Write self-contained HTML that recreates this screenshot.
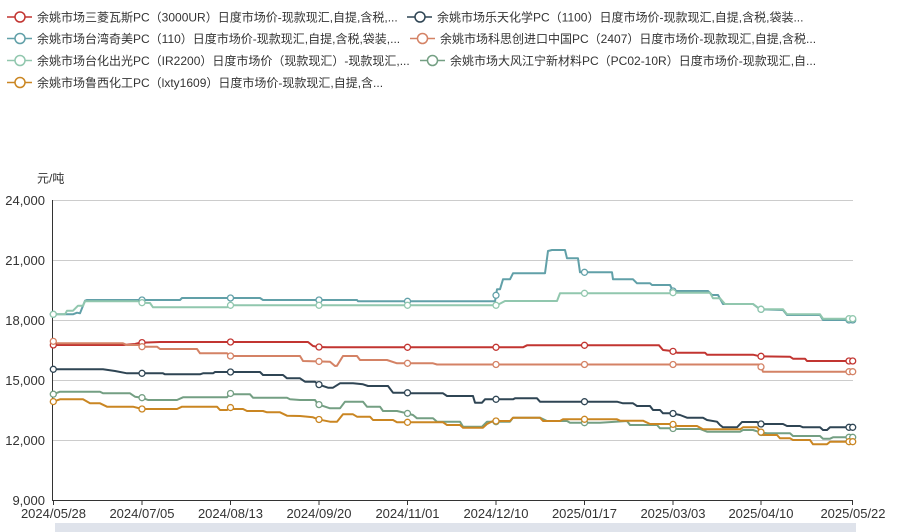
<!DOCTYPE html>
<html><head><meta charset="utf-8"><style>
html,body{margin:0;padding:0;background:#fff;}
svg{display:block;}
text{font-family:"Liberation Sans","Noto Sans CJK SC",sans-serif;}
</style></head><body>
<svg id="s" width="901" height="532" viewBox="0 0 901 532" xmlns="http://www.w3.org/2000/svg">
<rect width="901" height="532" fill="#fff"/>
<!-- legend -->
<g font-size="12" fill="#333">
 <g stroke-width="1.5" fill="#fff">
  <line x1="7" y1="17" x2="32" y2="17" stroke="#c23531"/><circle cx="20" cy="17" r="5" stroke="#c23531"/>
  <line x1="407" y1="17" x2="432" y2="17" stroke="#2f4554"/><circle cx="420" cy="17" r="5" stroke="#2f4554"/>
  <line x1="7" y1="38.5" x2="32" y2="38.5" stroke="#61a0a8"/><circle cx="20" cy="38.5" r="5" stroke="#61a0a8"/>
  <line x1="410" y1="38.5" x2="435" y2="38.5" stroke="#d48265"/><circle cx="422.5" cy="38.5" r="5" stroke="#d48265"/>
  <line x1="7" y1="60.5" x2="32" y2="60.5" stroke="#91c7ae"/><circle cx="20" cy="60.5" r="5" stroke="#91c7ae"/>
  <line x1="420" y1="60.5" x2="445" y2="60.5" stroke="#749f83"/><circle cx="432.5" cy="60.5" r="5" stroke="#749f83"/>
  <line x1="7" y1="82.5" x2="32" y2="82.5" stroke="#ca8622"/><circle cx="20" cy="82.5" r="5" stroke="#ca8622"/>
 </g>
 <text x="37" y="21.5">余姚市场三菱瓦斯PC（3000UR）日度市场价-现款现汇,自提,含税,...</text>
 <text x="437" y="21.5">余姚市场乐天化学PC（1100）日度市场价-现款现汇,自提,含税,袋装...</text>
 <text x="37" y="43">余姚市场台湾奇美PC（110）日度市场价-现款现汇,自提,含税,袋装,...</text>
 <text x="440" y="43">余姚市场科思创进口中国PC（2407）日度市场价-现款现汇,自提,含税...</text>
 <text x="37" y="65">余姚市场台化出光PC（IR2200）日度市场价（现款现汇）-现款现汇,...</text>
 <text x="450" y="65">余姚市场大风江宁新材料PC（PC02-10R）日度市场价-现款现汇,自...</text>
 <text x="37" y="87">余姚市场鲁西化工PC（lxty1609）日度市场价-现款现汇,自提,含...</text>
</g>
<!-- axis title -->
<text x="37" y="182.5" font-size="12" fill="#333">元/吨</text>
<!-- grid -->
<g stroke="#ccc" stroke-width="1">
 <line x1="53" y1="200.5" x2="853" y2="200.5"/>
 <line x1="53" y1="260.5" x2="853" y2="260.5"/>
 <line x1="53" y1="320.5" x2="853" y2="320.5"/>
 <line x1="53" y1="380.5" x2="853" y2="380.5"/>
 <line x1="53" y1="440.5" x2="853" y2="440.5"/>
</g>
<g font-size="13" fill="#333" text-anchor="end">
 <text x="45" y="205">24,000</text>
 <text x="45" y="265">21,000</text>
 <text x="45" y="325">18,000</text>
 <text x="45" y="385">15,000</text>
 <text x="45" y="445">12,000</text>
 <text x="45" y="505">9,000</text>
</g>
<line x1="52.5" y1="200" x2="52.5" y2="500" stroke="#333" stroke-width="1"/>
<line x1="52" y1="500.5" x2="853" y2="500.5" stroke="#333" stroke-width="1"/>
<g stroke="#333" stroke-width="1">
 <line x1="53.5" y1="500" x2="53.5" y2="505"/>
 <line x1="142" y1="500" x2="142" y2="505"/>
 <line x1="230.5" y1="500" x2="230.5" y2="505"/>
 <line x1="319" y1="500" x2="319" y2="505"/>
 <line x1="407.5" y1="500" x2="407.5" y2="505"/>
 <line x1="496" y1="500" x2="496" y2="505"/>
 <line x1="584.5" y1="500" x2="584.5" y2="505"/>
 <line x1="673" y1="500" x2="673" y2="505"/>
 <line x1="761" y1="500" x2="761" y2="505"/>
 <line x1="852.5" y1="500" x2="852.5" y2="505"/>
</g>
<g font-size="13" fill="#333" text-anchor="middle">
 <text x="53.5" y="518">2024/05/28</text>
 <text x="142" y="518">2024/07/05</text>
 <text x="230.5" y="518">2024/08/13</text>
 <text x="319" y="518">2024/09/20</text>
 <text x="407.5" y="518">2024/11/01</text>
 <text x="496" y="518">2024/12/10</text>
 <text x="584.5" y="518">2025/01/17</text>
 <text x="673" y="518">2025/03/03</text>
 <text x="761" y="518">2025/04/10</text>
 <text x="853" y="518">2025/05/22</text>
</g>
<rect x="55" y="523" width="801" height="9" fill="#dfe3eb"/>
<g id="series"></g>
</svg>
<script>
var S=[
{c:'#c23531',p:[[53,345],[123,345],[135,344],[140,342.7],[160,342],[308,342],[313,346],[318,347],[327,347.3],[523,347.3],[527,345.3],[659,345.3],[663,350],[672,351],[677,352.7],[705,352.7],[707,354.7],[753,354.7],[760,356.3],[790,356.7],[793,358.7],[805,358.7],[807,361],[853,361]]},
{c:'#2f4554',p:[[53,369.3],[103,369.3],[115,371],[127,373.3],[163,373.3],[165,374.3],[200,374.3],[203,373.3],[213,373.3],[215,372],[260,372],[263,375],[283,375],[287,378.3],[300,378.3],[305,381.7],[315,381.7],[318,384.3],[328,387.7],[333,387.7],[340,383.3],[353,383.3],[363,384.3],[368,386],[388,386],[393,392.7],[407,392.7],[410,393.3],[443,393.3],[447,396],[473,396],[475,402.7],[482,402.7],[485,399.3],[513,399.3],[515,398.3],[537,398.3],[540,401.7],[617,401.7],[623,403.3],[633,403.3],[637,406],[650,406],[653,410],[660,410],[663,413.3],[672,413.3],[680,415],[687,417.7],[703,417.7],[707,420],[717,421.7],[720,425],[723,427.3],[737,427.3],[742,422],[757,422],[760,424],[783,424],[787,426],[800,426],[803,427.3],[820,427.3],[823,430],[827,430],[830,427.3],[853,427.3]]},
{c:'#61a0a8',p:[[53,314.3],[73,314.3],[77,312.7],[80,313.3],[85,300.7],[87,300],[180,300],[182,298],[260,298],[263,300],[357,300],[358,301.3],[495,301.3],[497,289.3],[500,289.3],[503,279.3],[510,279.3],[513,273.3],[545,273.3],[548,251],[552,250],[565,250],[567,258.3],[578,258.3],[580,272.3],[612,272.3],[613,279.3],[633,279.3],[637,283.3],[650,283.3],[652,285],[670,285],[673,291],[708,291],[712,295],[718,295],[723,304],[753,304],[760,309.3],[783,310],[787,315],[820,315],[823,320],[853,320]]},
{c:'#d48265',p:[[53,341],[55,343.3],[123,343.3],[127,345],[140,345],[142,346.7],[157,346.7],[160,349],[197,349],[200,353.3],[227,353.3],[230,356],[300,356],[303,361],[330,361.7],[335,366],[337,365.7],[343,356],[357,356],[360,360],[387,360],[397,363.3],[433,363.3],[437,364.5],[760,364.5],[763,371.7],[853,371.7]]},
{c:'#91c7ae',p:[[53,314.3],[65,314.3],[67,310.7],[73,310.7],[78,305.7],[83,305.7],[85,301.3],[140,301.3],[142,302.7],[150,303],[153,307.3],[227,307.3],[230,305.3],[497,305.3],[505,301],[557,301],[560,293.3],[670,293.3],[673,292.7],[710,292.7],[713,298.3],[720,298.3],[725,304],[753,304],[760,309.3],[783,309.3],[787,314.3],[820,314.3],[823,318.7],[853,318.7]]},
{c:'#749f83',p:[[53,394.3],[60,391.7],[100,391.7],[103,393.3],[130,393.3],[135,396.7],[142,397.7],[148,400],[177,400],[183,397.3],[227,397.3],[230,393.3],[233,394.3],[250,394.3],[253,397.7],[287,397.7],[290,399.3],[300,400],[315,400],[318,404.3],[330,408.3],[340,408.3],[345,401.7],[363,401.7],[367,406.7],[380,406.7],[383,411],[397,411],[407,413.3],[413,415],[417,418.3],[433,418.3],[437,421.7],[460,421.7],[463,426.7],[482,426.7],[487,421.7],[510,421.7],[513,417.7],[540,417.7],[547,421],[567,421],[570,422.7],[600,422.7],[627,421],[630,425],[657,425],[660,428.3],[672,428.3],[675,429],[700,429],[707,431.7],[740,431.7],[743,430],[753,430],[760,432.3],[767,433.3],[790,433.3],[793,436],[820,436],[823,438.7],[830,438.7],[833,437.3],[853,437.3]]},
{c:'#ca8622',p:[[53,401.7],[60,399.3],[83,399.3],[90,403.3],[100,403.3],[107,406.7],[133,406.7],[142,409],[177,409],[182,406.7],[217,406.7],[220,410],[227,410],[230,407.3],[233,409],[243,409],[247,411],[263,411],[267,412.3],[280,412.3],[287,415.7],[300,416],[313,417.3],[318,419.3],[330,421.7],[337,421.7],[343,414.3],[353,414.3],[357,416.7],[370,416.7],[373,420],[393,420],[397,422.3],[443,422.3],[447,425],[460,425],[463,427.7],[483,427.7],[487,424],[493,421],[510,421],[513,417.7],[540,417.7],[543,421],[560,421],[563,419.3],[617,419.3],[620,420.7],[643,420.7],[650,424],[672,424],[677,426],[697,426],[703,429.3],[740,429.3],[743,427.3],[757,427.3],[760,430.7],[763,435],[777,435],[780,438.3],[790,438.3],[793,440],[810,440],[813,444.3],[827,444.3],[830,441.7],[853,441.7]]}
];
var MX=[53.3,142,230.5,319,407.5,496,584.5,673,761,849,852.7];
function yAt(p,x){if(x<=p[0][0])return p[0][1];for(var i=1;i<p.length;i++){if(x<=p[i][0]){var a=p[i-1],b=p[i];var t=(x-a[0])/((b[0]-a[0])||1);return a[1]+t*(b[1]-a[1]);}}return p[p.length-1][1];}
var g=document.getElementById('series'),ns='http://www.w3.org/2000/svg';
S.forEach(function(s){
 var pl=document.createElementNS(ns,'polyline');
 pl.setAttribute('points',s.p.map(function(q){return q[0]+','+q[1];}).join(' '));
 pl.setAttribute('fill','none');pl.setAttribute('stroke',s.c);pl.setAttribute('stroke-width','2');
 pl.setAttribute('stroke-linejoin','round');g.appendChild(pl);
});
S.forEach(function(s){
 MX.forEach(function(x){
  var c=document.createElementNS(ns,'circle');
  c.setAttribute('cx',x);c.setAttribute('cy',yAt(s.p,x));c.setAttribute('r','3');
  c.setAttribute('fill','#fff');c.setAttribute('stroke',s.c);c.setAttribute('stroke-width','1.3');
  g.appendChild(c);
 });
});
</script>
</body></html>
